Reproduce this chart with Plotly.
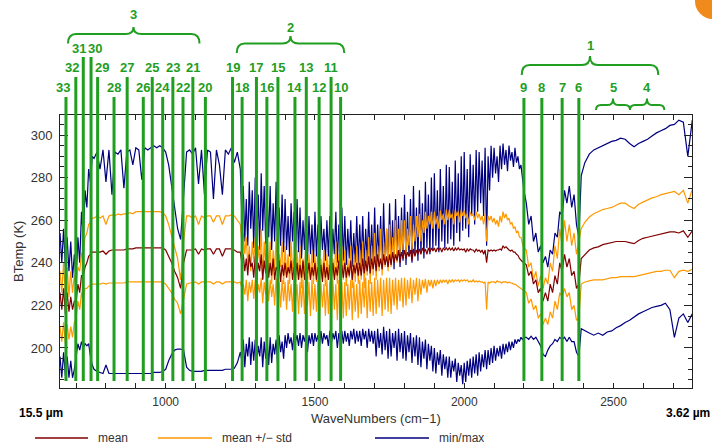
import plotly.graph_objects as go

# ---------------- data ----------------
wn_a = [646, 652, 658, 664, 670, 676, 682, 688, 694, 700, 706, 712, 718, 724, 730, 736, 742, 748, 754, 760]
wn_b = [770, 780, 790, 800, 810, 820, 830, 840, 850, 860, 870, 880, 890, 900, 910, 920, 930, 940, 950, 960,
        970, 980, 990, 1000, 1010, 1020, 1030, 1040, 1050, 1060, 1070, 1080, 1090, 1100, 1110, 1120, 1130, 1140,
        1150, 1160, 1170, 1180, 1190, 1200, 1210, 1220, 1230, 1240]
wn_c = [
    1250, 1255, 1260, 1265, 1270, 1275, 1280, 1285, 1290, 1295,
    1300, 1305, 1310, 1315, 1320, 1325, 1330, 1335, 1340, 1345,
    1350, 1355, 1360, 1365, 1370, 1375, 1380, 1385, 1390, 1395,
    1400, 1405, 1410, 1415, 1420, 1425, 1430, 1435, 1440, 1445,
    1450, 1455, 1460, 1465, 1470, 1475, 1480, 1485, 1490, 1495,
    1500, 1505, 1510, 1515, 1520, 1525, 1530, 1535, 1540, 1545,
    1550, 1555, 1560, 1565, 1570, 1575, 1580, 1585, 1590, 1595,
    1600, 1605, 1610, 1615, 1620, 1625, 1630, 1635, 1640, 1645,
    1650, 1655, 1660, 1665, 1670, 1675, 1680, 1685, 1690, 1695,
    1700, 1705, 1710, 1715, 1720, 1725, 1730, 1735, 1740, 1745,
    1750, 1755, 1760, 1765, 1770, 1775, 1780, 1785, 1790, 1795,
    1800, 1805, 1810, 1815, 1820, 1825, 1830, 1835, 1840, 1845,
    1850, 1855, 1860, 1865, 1870, 1875, 1880, 1885, 1890, 1895,
    1900, 1905, 1910, 1915, 1920, 1925, 1930, 1935, 1940, 1945,
    1950, 1955, 1960, 1965, 1970, 1975, 1980, 1985, 1990, 1995,
    2000, 2005, 2010, 2015, 2020, 2025, 2030, 2035, 2040, 2045,
    2050, 2055, 2060, 2065, 2070, 2075, 2080, 2085, 2090, 2095,
    2100, 2105, 2110, 2115, 2120, 2125, 2130, 2135, 2140, 2145,
    2150, 2155, 2160, 2165, 2170, 2175, 2180, 2185, 2190, 2195,
    2200,
]
wn_d = [2208, 2216, 2224, 2232, 2240, 2248, 2256, 2264, 2272, 2280, 2288, 2296,
        2304, 2312, 2320, 2328, 2336, 2344, 2352, 2360, 2368, 2376, 2384, 2392]
wn_e = [2404, 2419, 2434, 2449, 2464, 2479, 2494, 2509, 2524, 2539, 2554, 2569, 2584,
        2599, 2614, 2629, 2644, 2659, 2674, 2689, 2704, 2719, 2734, 2749, 2764]

# ---- max brightness temperature (K)
max_a = [254, 240, 256, 238, 252, 236, 250, 233, 244, 232, 252, 240, 264, 252, 274, 266, 284, 278, 290, 289]
max_b = [292, 284, 293, 278, 293, 272, 292, 291, 293, 275, 292, 293, 286, 294, 293, 279, 294, 293, 294, 295,
         294, 295, 294, 292, 286, 276, 265, 256, 251, 272, 292, 293, 291, 294, 277, 293, 272, 293,
         292, 270, 293, 286, 272, 293, 291, 294, 287, 292]
max_c = [
    284, 262, 276, 250, 270, 248, 278, 256, 274, 247,
    280, 250, 272, 246, 282, 255, 276, 249, 270, 252,
    276, 246, 268, 250, 278, 244, 266, 248, 272, 245,
    270, 246, 262, 243, 268, 250, 264, 242, 270, 245,
    266, 242, 260, 246, 268, 241, 262, 244, 258, 240,
    264, 243, 258, 240, 262, 246, 256, 241, 260, 243,
    262, 240, 256, 244, 264, 240, 258, 242, 266, 241,
    262, 239, 256, 242, 260, 238, 254, 240, 262, 239,
    258, 240, 262, 238, 256, 241, 264, 239, 258, 238,
    266, 238, 258, 241, 262, 237, 268, 240, 256, 238,
    268, 240, 260, 237, 270, 242, 262, 238, 266, 241,
    272, 239, 264, 243, 270, 240, 276, 244, 266, 241,
    274, 245, 268, 242, 278, 247, 272, 244, 280, 246,
    282, 248, 274, 245, 284, 250, 276, 247, 286, 249,
    285, 251, 278, 248, 288, 254, 282, 250, 290, 255,
    292, 256, 284, 252, 291, 262, 286, 258, 293, 264,
    292, 268, 288, 262, 294, 248, 290, 274, 295, 280,
    294, 282, 290, 278, 295, 284, 296, 286, 293, 283,
    295, 288, 292, 285, 294, 287, 290, 284, 286, 280,
    274,
]
max_d = [268, 258, 262, 250, 254, 245, 248, 240, 243, 238, 246, 244,
         254, 252, 264, 262, 274, 268, 276, 266, 272, 258, 252, 281]
max_e = [287, 291, 293, 294, 295, 296, 297, 297.5, 298.5, 298, 296, 294.5, 296,
         297, 298, 299.5, 301, 302, 303, 304.5, 305, 307, 306, 290, 307]

# ---- mean + std (K)
hi_a = [236, 226, 240, 225, 238, 224, 236, 226, 234, 228, 238, 236, 244, 246, 252, 254, 258, 259, 261, 261]
hi_b = [262, 261, 262, 258, 262, 262.5, 262, 263, 262.5, 263, 263, 263.5, 263, 264, 264, 264, 264, 264, 264, 264,
        264, 264, 263.5, 262, 258, 253, 248, 242, 232, 250, 262, 262, 261, 262, 258, 262, 261, 262,
        262, 259, 262, 262, 258, 262, 262, 262.5, 262, 260]
hi_c = [
    258, 250, 254, 244, 252, 238, 248, 236, 250, 240,
    252, 234, 248, 240, 256, 232, 250, 238, 254, 236,
    250, 230, 246, 236, 252, 232, 244, 238, 250, 230,
    248, 234, 244, 230, 250, 236, 242, 230, 246, 232,
    248, 228, 242, 234, 250, 229, 244, 232, 246, 230,
    244, 231, 248, 228, 242, 233, 246, 229, 244, 232,
    246, 228, 242, 234, 250, 230, 244, 228, 248, 232,
    246, 229, 242, 233, 248, 228, 244, 231, 248, 230,
    246, 232, 250, 228, 246, 234, 252, 230, 248, 234,
    254, 232, 248, 236, 256, 234, 250, 238, 256, 236,
    258, 238, 252, 242, 260, 240, 256, 244, 260, 246,
    260, 244, 256, 248, 262, 246, 258, 250, 262, 252,
    263, 250, 260, 254, 264, 256, 262, 258, 264, 256,
    264, 258, 262, 256, 264.5, 260, 263, 258, 265, 260,
    265, 261, 263, 258, 265, 262, 264, 259, 265, 262,
    264.5, 261, 263, 258, 264, 262, 263, 260, 264, 261,
    263, 260, 262, 258, 263, 250, 262, 260, 262, 259,
    261, 258, 260, 257, 262, 259, 264, 261, 263, 260,
    261, 258, 259, 256, 257, 254, 255, 252, 252, 249,
    247,
]
hi_d = [246, 238, 240, 232, 236, 229, 234, 228, 233, 230, 240, 236,
        248, 242, 256, 248, 260, 250, 258, 248, 254, 244, 250, 256]
hi_e = [259, 261.5, 263, 264, 265, 265.5, 266, 267, 268, 268, 266.5, 265.5, 267.5,
        268.5, 269.5, 270.5, 271, 272, 272.5, 273, 273.5, 272, 274, 268, 274.5]

# ---- mean (K)
mean_a = [226, 218, 228, 216, 226, 217, 224, 218, 222, 222, 230, 226, 234, 234, 238, 240, 243, 244, 245, 245]
mean_b = [245, 245, 245.5, 244, 245.5, 246, 246, 246, 246, 246, 246.5, 246.5, 246.5, 247, 247, 247, 247, 247, 247, 247,
          247, 247, 247, 246, 243, 240, 236, 233, 228, 240, 246, 246, 246, 246.5, 244, 246.5, 246, 246.5,
          246.5, 244, 246.5, 246.5, 243, 246.5, 246.5, 246.5, 246, 245]
mean_c = [
    245, 240, 244, 236, 242, 234, 244, 238, 240, 233,
    243, 232, 240, 236, 244, 232, 241, 235, 243, 233,
    240, 234, 242, 232, 238, 236, 241, 231, 239, 234,
    240, 233, 238, 235, 241, 232, 238, 234, 240, 232,
    239, 233, 241, 232, 238, 235, 240, 232, 238, 234,
    240, 232, 238, 234, 239, 231, 240, 233, 238, 232,
    239, 233, 240, 232, 238, 234, 241, 232, 239, 233,
    240, 233, 238, 234, 241, 232, 239, 235, 240, 234,
    240, 234, 242, 235, 241, 236, 243, 235, 242, 237,
    243, 236, 244, 238, 242, 237, 244, 239, 243, 238,
    244, 239, 245, 240, 244, 241, 246, 240, 245, 242,
    246, 242, 245, 243, 246, 241, 246.5, 243, 246, 244,
    246.5, 244, 247, 245, 246.5, 244, 247, 245, 247, 245.5,
    247, 245, 247, 246, 247, 245, 247, 246, 247, 246,
    247, 246, 247, 245.5, 247, 246, 247, 246, 246.5, 246,
    246.5, 245, 246.5, 245.5, 246.5, 246, 246, 245, 246.5, 245.5,
    246, 245, 246, 244, 246, 240, 246, 245.5, 246, 245.5,
    246, 245.5, 246, 246, 246.5, 246, 248, 247, 247.5, 246.5,
    246, 245.5, 246, 245, 245, 244, 243.5, 242, 241, 240.5,
    240,
]
mean_d = [239, 234, 236, 230, 232, 226, 228, 222, 226, 222, 230, 226,
          234, 230, 240, 236, 244, 238, 242, 234, 236, 228, 230, 242]
mean_e = [244, 246, 247, 247.5, 248.5, 249, 249.5, 250, 250, 250, 249.5, 249, 250.5,
          251.5, 252, 252.5, 253, 253.5, 254, 254.5, 254.5, 254, 255, 252, 255]

# ---- mean - std (K)
lo_a = [210, 203, 212, 202, 211, 204, 210, 205, 212, 214, 222, 218, 226, 222, 228, 228, 229, 229.5, 230, 230]
lo_b = [230, 230, 230.5, 230, 230.5, 230.5, 230.5, 230.5, 230.5, 230.5, 231, 231, 231, 231, 231, 231, 231, 231, 231, 231,
        231, 231, 231, 230, 228, 226, 223, 221, 216, 224, 230, 230.5, 230.5, 231, 230, 231, 231, 231,
        231, 230, 231, 231, 230, 231, 231, 231, 231, 230.5]
lo_c = [
    231, 228, 230, 225, 232, 222, 231, 226, 232, 223,
    232, 222, 230, 226, 233, 221, 231, 225, 233, 222,
    232, 224, 230, 220, 233, 223, 231, 219, 232, 222,
    231, 218, 232, 222, 230, 217, 232, 221, 230, 216,
    231, 219, 232, 216, 230, 220, 231, 215, 232, 218,
    230, 217, 232, 214, 231, 219, 230, 215, 232, 216,
    231, 214, 232, 218, 230, 213, 232, 216, 231, 214,
    231, 215, 230, 218, 232, 213, 231, 217, 230, 214,
    232, 216, 231, 219, 233, 214, 232, 217, 231, 215,
    233, 216, 232, 219, 233, 215, 232, 218, 233, 217,
    233, 216, 232, 220, 233, 218, 232, 222, 233, 219,
    233, 220, 232, 223, 233, 221, 232, 225, 233, 222,
    232.5, 225, 232, 228, 232.5, 226, 232, 229, 232, 228,
    232, 229, 232, 230, 232, 230.5, 232, 231, 232, 230,
    232, 231, 232, 231, 232, 231.5, 232, 231, 232, 231.5,
    232, 231.5, 232, 231, 231.5, 231, 232, 231, 231.5, 231,
    231.5, 231, 231, 230.5, 231, 218, 231, 230.5, 231, 231,
    231, 230.5, 231.5, 231, 231, 230.5, 231, 231, 231, 230.5,
    231, 230.5, 230.5, 230, 230, 229.5, 229, 228.5, 228, 227.5,
    227,
]
lo_d = [226, 221, 223, 218, 220, 214, 216, 211, 214, 211, 217, 214,
        222, 218, 226, 224, 228, 224, 226, 218, 220, 213, 214, 230]
lo_e = [231, 231.5, 232, 232, 232, 232.5, 233, 233, 233.5, 233.5, 233.5, 233.5, 234,
        234.5, 235, 235.5, 236, 236, 236.5, 236.5, 233, 236, 236.5, 236, 237]

# ---- min brightness temperature (K)
min_a = [196, 186, 198, 187, 196, 186, 194, 186, 190, 196, 202, 199, 203, 200, 202, 201, 202, 196, 192, 190]
min_b = [189, 188.5, 188, 192, 188, 188, 188, 188, 188, 188, 188, 188, 188, 188, 188, 188, 188, 188, 188, 188.5,
         188.5, 188.5, 189, 190, 194, 197, 199, 199.5, 199.5, 199, 191, 189.5, 189, 189, 189, 189, 189.5, 189.5,
         189.5, 189.5, 189.5, 189.5, 189.5, 190, 190, 190, 190.5, 193]
min_c = [
    198, 194, 204, 191, 202, 196, 205, 192, 203, 194,
    204, 193, 201, 196, 205, 191, 203, 195, 204, 192,
    205, 193, 202, 197, 204, 192, 206, 198, 203, 195,
    206, 200, 207, 202, 205, 199, 207, 203, 206, 201,
    207, 200, 206, 203, 207, 198, 206, 202, 207, 201,
    207, 203, 206, 200, 208, 202, 207, 204, 206, 201,
    208, 202, 207, 204, 208, 200, 207, 203, 208, 202,
    208, 203, 207, 201, 208, 204, 209, 202, 208, 203,
    208, 201, 209, 204, 208, 200, 209, 203, 208, 202,
    208, 196, 209, 200, 207, 197, 210, 199, 208, 195,
    209, 196, 207, 200, 208, 194, 209, 198, 207, 195,
    208, 194, 206, 198, 207, 193, 205, 196, 206, 192,
    205, 191, 203, 195, 204, 190, 202, 194, 201, 189,
    200, 188, 198, 192, 199, 187, 197, 190, 196, 186,
    196, 186, 194, 189, 195, 184, 193, 187, 192, 183,
    193, 184, 194, 187, 195, 186, 196, 188, 197, 187,
    198, 189, 197, 191, 199, 190, 199, 192, 200, 193,
    201, 194, 200, 196, 201, 195, 202, 197, 202, 198,
    203, 199, 203, 200, 204, 202, 204, 203, 205, 204,
    205,
]
min_d = [205, 204, 205.5, 204, 205, 203, 201, 197, 196, 199, 201, 202,
         204, 203, 205, 204, 205, 203, 205, 203, 203, 198, 196, 209]
min_e = [208, 207, 206, 207, 206, 207.5, 208, 209.5, 210.5, 212, 213, 214.5, 216,
         217, 218, 219, 219.5, 220, 221, 218, 205, 214, 216, 212, 216]

# channel numbers and their wavenumbers (cm-1)
chan_labels = ["33", "32", "31", "30", "29", "28", "27", "26", "25", "24", "23", "22", "21", "20",
               "19", "18", "17", "16", "15", "14", "13", "12", "11", "10", "9", "8", "7", "6"]
chan_wn = [666, 699, 724, 750, 772, 827, 871, 925, 955, 990, 1024, 1058, 1091, 1133,
           1224, 1256, 1304, 1339, 1376, 1433, 1471, 1514, 1554, 1586, 2200, 2260, 2328, 2384]
chan_row = [1, 2, 3, 3, 2, 1, 2, 1, 2, 1, 2, 1, 2, 1,
            2, 1, 2, 1, 2, 1, 2, 1, 2, 1, 1, 1, 1, 1]

x_range = [646, 2763]
y_range = [181.2, 309.4]
x_tick_vals = [700, 800, 900, 1000, 1100, 1200, 1300, 1400, 1500, 1600, 1700, 1800, 1900,
               2000, 2100, 2200, 2300, 2400, 2500, 2600, 2700]
x_tick_labels = ["", "", "", "1000", "", "", "", "", "1500", "", "", "", "",
                 "2000", "", "", "", "", "2500", "", ""]

wn = wn_a + wn_b + wn_c + wn_d + wn_e
bt_max = max_a + max_b + max_c + max_d + max_e
bt_hi = hi_a + hi_b + hi_c + hi_d + hi_e
bt_mean = mean_a + mean_b + mean_c + mean_d + mean_e
bt_lo = lo_a + lo_b + lo_c + lo_d + lo_e
bt_min = min_a + min_b + min_c + min_d + min_e

# ---------------- layout helpers ----------------
W, H = 712, 448
ML, MR, MT, MB = 60, 20, 115, 60
PW, PH = W - ML - MR, H - MT - MB


def px(x):
    return (x - ML) / PW


def py(y):
    return (H - MB - y) / PH


NAVY = "#000080"
ORANGE = "#ff9900"
DRED = "#800000"
GREEN = "#1f9e1f"
AXC = "#222222"
TXT = "#333333"
FONT = "Liberation Sans"

fig = go.Figure()
for yv, col in [(bt_max, NAVY), (bt_min, NAVY), (bt_hi, ORANGE), (bt_lo, ORANGE), (bt_mean, DRED)]:
    fig.add_trace(go.Scatter(x=wn, y=yv, mode="lines", line=dict(color=col, width=1.2),
                             showlegend=False, hoverinfo="skip"))

shapes = []
annotations = []

# channel lines and labels
row_top = {1: 97, 2: 77, 3: 57}
row_lab = {1: 88, 2: 68, 3: 48}
lab_shift = {"33": -3, "32": -4, "31": -4, "30": 4, "29": 4}
for lab, w, r in zip(chan_labels, chan_wn, chan_row):
    top = row_top[r] + (1 if w > 2000 else 0)
    shapes.append(dict(type="line", xref="x", yref="paper", x0=w, x1=w,
                       y0=py(381), y1=py(top), line=dict(color=GREEN, width=3), layer="above"))
    annotations.append(dict(x=w, y=py(row_lab[r]), xref="x", yref="paper", text=f"<b>{lab}</b>",
                            showarrow=False, xshift=lab_shift.get(lab, 0),
                            font=dict(family=FONT, size=13, color=GREEN),
                            xanchor="center", yanchor="middle"))


def brace(x0, x1, cx, y_end, y_h, y_peak, r=8):
    pts = (f"M {px(x0)},{py(y_end)} Q {px(x0)},{py(y_h)} {px(x0 + r)},{py(y_h)} "
           f"L {px(cx - r)},{py(y_h)} Q {px(cx)},{py(y_h)} {px(cx)},{py(y_peak)} "
           f"Q {px(cx)},{py(y_h)} {px(cx + r)},{py(y_h)} "
           f"L {px(x1 - r)},{py(y_h)} Q {px(x1)},{py(y_h)} {px(x1)},{py(y_end)}")
    return dict(type="path", xref="paper", yref="paper", path=pts,
                line=dict(color=GREEN, width=2), layer="above")


brace_specs = [
    ("3", 68, 199.5, 133.5, 43.5, 34, 27, 8, 15),
    ("2", 236.7, 344.3, 290.5, 53, 43.5, 36, 8, 27),
    ("1", 521.7, 658.3, 590, 75, 65, 56, 8, 45),
    ("5", 596, 630, 613, 110, 105, 98.5, 5, 88),
    ("4", 630, 664.3, 647, 110, 105, 98.5, 5, 88),
]
for lab, x0, x1, cx, ye, yh, yp, r, ly in brace_specs:
    shapes.append(brace(x0, x1, cx, ye, yh, yp, r))
    annotations.append(dict(x=px(cx), y=py(ly), xref="paper", yref="paper", text=f"<b>{lab}</b>",
                            showarrow=False, font=dict(family=FONT, size=13, color=GREEN),
                            xanchor="center", yanchor="middle"))

# orange corner blob
shapes.append(dict(type="circle", xref="paper", yref="paper", x0=px(695), x1=px(731),
                   y0=py(19), y1=py(-17), fillcolor="#f08a1c", line=dict(width=0)))

# axis titles / end labels
annotations += [
    dict(x=px(18), y=py(252), xref="paper", yref="paper", text="BTemp (K)", textangle=-90,
         xanchor="center", yanchor="middle",
         showarrow=False, font=dict(family=FONT, size=13, color=TXT)),
    dict(x=px(376), y=py(418), xref="paper", yref="paper", text="WaveNumbers (cm\u22121)",
         xanchor="center", yanchor="middle",
         showarrow=False, font=dict(family=FONT, size=13, color=TXT)),
    dict(x=px(41), y=py(413), xref="paper", yref="paper", text="<b>15.5 \u00b5m</b>",
         xanchor="center", yanchor="middle",
         showarrow=False, font=dict(family=FONT, size=12, color="#000")),
    dict(x=px(688), y=py(413), xref="paper", yref="paper", text="<b>3.62 \u00b5m</b>",
         xanchor="center", yanchor="middle",
         showarrow=False, font=dict(family=FONT, size=12, color="#000")),
]

# legend
legend_items = [("mean", DRED, 35, 88), ("mean +/\u2212 std", ORANGE, 158, 212),
                ("min/max", NAVY, 375, 429)]
for txt, col, x0, x1 in legend_items:
    shapes.append(dict(type="line", xref="paper", yref="paper", x0=px(x0), x1=px(x1),
                       y0=py(438), y1=py(438), line=dict(color=col, width=1.5)))
    annotations.append(dict(x=px(x1 + 8), y=py(438), xref="paper", yref="paper", text=txt,
                            xanchor="left", yanchor="middle", showarrow=False,
                            font=dict(family=FONT, size=12, color=TXT)))

fig.update_layout(
    width=W, height=H, margin=dict(l=ML, r=MR, t=MT, b=MB),
    paper_bgcolor="white", plot_bgcolor="white", showlegend=False,
    shapes=shapes, annotations=annotations,
    xaxis=dict(range=x_range, showline=True, linecolor=AXC, linewidth=1, mirror="ticks",
               ticks="inside", ticklen=5, tickcolor=AXC, tickvals=x_tick_vals,
               ticktext=x_tick_labels, showgrid=False, zeroline=False, ticklabelstandoff=3,
               tickfont=dict(family=FONT, size=12, color=TXT)),
    yaxis=dict(range=y_range, showline=True, linecolor=AXC, linewidth=1, mirror="ticks",
               ticks="inside", ticklen=8, tickcolor=AXC, tickmode="linear", tick0=200, dtick=20,
               minor=dict(dtick=5, ticklen=4, ticks="inside", tickcolor=AXC, showgrid=False),
               showgrid=False, zeroline=False, ticklabelstandoff=4,
               tickfont=dict(family=FONT, size=13, color=TXT)),
)

fig.write_html("out.html")
